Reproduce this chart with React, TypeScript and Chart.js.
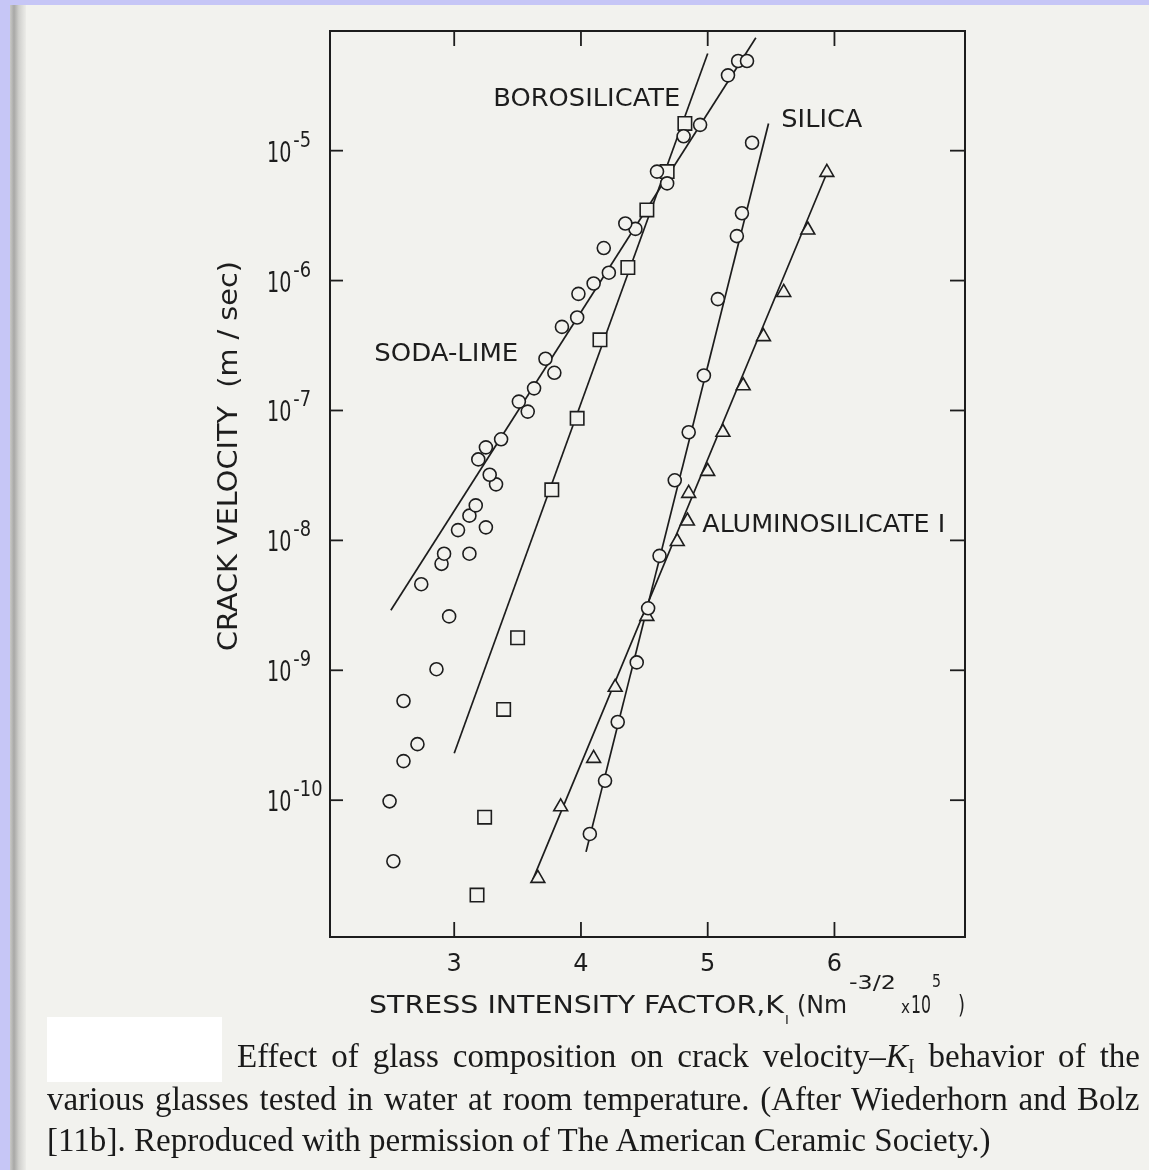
import React, { useEffect, useRef } from 'react';
import { Chart, registerables } from 'chart.js';

Chart.register(...registerables);

// ---------- data (K in units of Nm^-3/2 x10^5, V in m/s) ----------
const sodaLimeK = [2.52, 2.49, 2.60, 2.71, 2.60, 2.86, 2.96, 2.74, 2.90, 2.92, 3.12, 3.03, 3.25, 3.12, 3.17, 3.33, 3.28, 3.19, 3.25, 3.37, 3.58, 3.51, 3.63, 3.79, 3.72, 3.85, 3.97, 3.98, 4.10, 4.22, 4.18, 4.43, 4.35, 4.68, 4.60, 4.81, 4.94, 5.16, 5.24, 5.31];
const sodaLimeV = [3.39e-11, 9.8e-11, 2.0e-10, 2.7e-10, 5.8e-10, 1.02e-9, 2.6e-9, 4.6e-9, 6.6e-9, 7.9e-9, 7.9e-9, 1.2e-8, 1.26e-8, 1.55e-8, 1.86e-8, 2.7e-8, 3.2e-8, 4.2e-8, 5.2e-8, 6.0e-8, 9.8e-8, 1.17e-7, 1.48e-7, 1.95e-7, 2.5e-7, 4.4e-7, 5.2e-7, 7.9e-7, 9.5e-7, 1.15e-6, 1.78e-6, 2.5e-6, 2.75e-6, 5.6e-6, 6.9e-6, 1.29e-5, 1.58e-5, 3.8e-5, 4.9e-5, 4.9e-5];
const sodaLimeFitK = [2.50, 5.38];
const sodaLimeFitV = [2.9e-9, 7.4e-5];

const borosilicateK = [4.82, 4.68, 4.52, 4.37, 4.15, 3.97, 3.77, 3.50, 3.39, 3.24, 3.18];
const borosilicateV = [1.62e-5, 6.9e-6, 3.5e-6, 1.26e-6, 3.5e-7, 8.7e-8, 2.45e-8, 1.78e-9, 5.0e-10, 7.4e-11, 1.86e-11];
const borosilicateFitK = [3.00, 5.00];
const borosilicateFitV = [2.3e-10, 5.6e-5];

const silicaK = [5.35, 5.27, 5.23, 5.08, 4.97, 4.85, 4.74, 4.62, 4.53, 4.44, 4.29, 4.19, 4.07];
const silicaV = [1.15e-5, 3.3e-6, 2.2e-6, 7.2e-7, 1.86e-7, 6.8e-8, 2.9e-8, 7.6e-9, 3.0e-9, 1.15e-9, 4.0e-10, 1.41e-10, 5.5e-11];
const silicaFitK = [4.04, 5.48];
const silicaFitV = [4.0e-11, 1.62e-5];

const aluminoK = [5.94, 5.79, 5.60, 5.44, 5.28, 5.12, 5.00, 4.85, 4.84, 4.76, 4.52, 4.27, 4.10, 3.84, 3.66];
const aluminoV = [6.8e-6, 2.45e-6, 8.1e-7, 3.7e-7, 1.55e-7, 6.8e-8, 3.4e-8, 2.3e-8, 1.41e-8, 9.8e-9, 2.6e-9, 7.4e-10, 2.1e-10, 8.9e-11, 2.5e-11];
const aluminoFitK = [3.62, 5.95];
const aluminoFitV = [2.45e-11, 7.1e-6];

const kTicks = [3, 4, 5, 6];
const kTickLabels = ['3', '4', '5', '6'];
const vTicks = [1e-5, 1e-6, 1e-7, 1e-8, 1e-9, 1e-10];
const vTickExponents = ['-5', '-6', '-7', '-8', '-9', '-10'];

const seriesLabels = ['BOROSILICATE', 'SILICA', 'SODA-LIME', 'ALUMINOSILICATE I'];
const seriesLabelK = [3.308, 5.581, 2.369, 4.957];
const seriesLabelV = [2.21e-5, 1.52e-5, 2.40e-7, 1.16e-8];
const seriesLabelWidth = [187, 81, 144, 243];

const captionLine1a = 'Effect of glass composition on crack velocity–';
const captionLine1b = ' behavior of the';
const captionLine2 = 'various glasses tested in water at room temperature. (After Wiederhorn and Bolz';
const captionLine3 = '[11b]. Reproduced with permission of The American Ceramic Society.)';

// ---------- style ----------
const INK = '#1d1d1d';
const PAPER = '#f2f2ee';
const FONT = '"DejaVu Sans", sans-serif';

const pts = (k: number[], v: number[]) => k.map((x, i) => ({ x, y: v[i] }));

function drawScaled(ctx: CanvasRenderingContext2D, text: string, x: number, baseline: number, size: number, sx: number) {
  ctx.save();
  ctx.font = `${size}px ${FONT}`;
  ctx.textAlign = 'left';
  ctx.textBaseline = 'alphabetic';
  const w = ctx.measureText(text).width;
  ctx.translate(x, baseline);
  ctx.scale(sx, 1);
  ctx.fillText(text, 0, 0);
  ctx.restore();
  return w * sx;
}

function drawFit(ctx: CanvasRenderingContext2D, text: string, x: number, width: number, baseline: number, size: number) {
  ctx.save();
  ctx.font = `${size}px ${FONT}`;
  const w = ctx.measureText(text).width;
  ctx.restore();
  return drawScaled(ctx, text, x, baseline, size, width / w);
}

const decorPlugin = {
  id: 'decor',
  afterDraw(chart: any) {
    const ctx: CanvasRenderingContext2D = chart.ctx;
    const { left, right, top, bottom } = chart.chartArea;
    const xs = chart.scales.x;
    const ys = chart.scales.y;
    ctx.save();
    ctx.strokeStyle = INK;
    ctx.fillStyle = INK;
    ctx.lineWidth = 2;
    ctx.strokeRect(left, top, right - left, bottom - top);
    ctx.lineWidth = 1.8;
    const seg = (x1: number, y1: number, x2: number, y2: number) => {
      ctx.beginPath();
      ctx.moveTo(x1, y1);
      ctx.lineTo(x2, y2);
      ctx.stroke();
    };
    vTicks.forEach((v, i) => {
      const y = ys.getPixelForValue(v);
      seg(left, y, left + 13, y);
      seg(right, y, right - 15, y);
      const w = drawScaled(ctx, '10', 267, y + 11, 29, 0.66);
      drawScaled(ctx, vTickExponents[i], 267 + w + 2, y - 4, 21, 0.85);
    });
    kTicks.forEach((k, i) => {
      const x = xs.getPixelForValue(k);
      seg(x, bottom, x, bottom - 15);
      seg(x, top, x, top + 15);
      ctx.font = `24px ${FONT}`;
      ctx.textAlign = 'center';
      ctx.textBaseline = 'alphabetic';
      ctx.fillText(kTickLabels[i], x, 971);
    });
    // series labels
    seriesLabels.forEach((t, i) => {
      const x = xs.getPixelForValue(seriesLabelK[i]);
      const y = ys.getPixelForValue(seriesLabelV[i]);
      drawFit(ctx, t, x, seriesLabelWidth[i], y, 25);
    });
    // x title
    drawFit(ctx, 'STRESS INTENSITY FACTOR,K', 369, 415, 1013, 25);
    drawScaled(ctx, 'I', 785, 1024, 13, 1);
    drawFit(ctx, '(Nm', 797, 50, 1013, 25);
    drawFit(ctx, '-3/2', 849, 47, 989, 19);
    drawFit(ctx, 'x', 901, 9, 1013, 18);
    drawFit(ctx, '10', 911, 20, 1013, 25);
    drawFit(ctx, '5', 932, 9, 987, 18);
    drawFit(ctx, ')', 958, 7, 1013, 25);
    // y title
    ctx.save();
    ctx.translate(237, 651);
    ctx.rotate(-Math.PI / 2);
    drawFit(ctx, 'CRACK VELOCITY  (m / sec)', 0, 390, 0, 27);
    ctx.restore();
    ctx.restore();
  },
};

const CAP_SIZE = 34;
const CAP_FONT = '"Liberation Serif", "Times New Roman", serif';

function measureCaption(text: string, italic = false, size = CAP_SIZE) {
  const c = document.createElement('canvas').getContext('2d');
  if (!c) return text.length * 14;
  c.font = `${italic ? 'italic ' : ''}${size}px ${CAP_FONT}`;
  return c.measureText(text).width;
}

function spacesIn(t: string) {
  return (t.match(/ /g) || []).length;
}

export default function App() {
  const ref = useRef<HTMLCanvasElement | null>(null);
  const s = 946 / measureCaption(captionLine3);
  const l1Natural = measureCaption(captionLine1a) + measureCaption('K', true) + measureCaption('I', false, CAP_SIZE * 0.6) + measureCaption(captionLine1b);
  const l1Spaces = spacesIn(captionLine1a) + spacesIn(captionLine1b);
  const ws1 = (903 / s - l1Natural) / l1Spaces;
  const ws2 = (1093 / s - measureCaption(captionLine2)) / spacesIn(captionLine2);

  useEffect(() => {
    const canvas = ref.current;
    if (!canvas) return;
    const pointStyle = (style: string, r: number) => ({
      showLine: false,
      pointStyle: style,
      pointRadius: r,
      pointBackgroundColor: PAPER,
      pointBorderColor: INK,
      pointBorderWidth: 1.6,
      order: 0,
    });
    const lineStyle = {
      showLine: true,
      pointRadius: 0,
      borderColor: INK,
      borderWidth: 1.7,
      fill: false,
      order: 1,
    };
    const chart = new Chart(canvas, {
      type: 'scatter',
      data: {
        datasets: [
          { label: 'Soda-lime', data: pts(sodaLimeK, sodaLimeV), ...pointStyle('circle', 6.5) },
          { label: 'Borosilicate', data: pts(borosilicateK, borosilicateV), ...pointStyle('rect', 9.5) },
          { label: 'Silica', data: pts(silicaK, silicaV), ...pointStyle('circle', 6.5) },
          { label: 'Aluminosilicate I', data: pts(aluminoK, aluminoV), ...pointStyle('triangle', 8) },
          { label: 'Soda-lime fit', data: pts(sodaLimeFitK, sodaLimeFitV), ...lineStyle },
          { label: 'Borosilicate fit', data: pts(borosilicateFitK, borosilicateFitV), ...lineStyle },
          { label: 'Silica fit', data: pts(silicaFitK, silicaFitV), ...lineStyle },
          { label: 'Aluminosilicate fit', data: pts(aluminoFitK, aluminoFitV), ...lineStyle },
        ] as any,
      },
      options: {
        responsive: false,
        animation: false,
        devicePixelRatio: 1,
        layout: { padding: { left: 330, top: 31, right: 1149 - 965, bottom: 1170 - 937 } },
        plugins: { legend: { display: false }, tooltip: { enabled: false } },
        scales: {
          x: { type: 'linear', min: 2.02, max: 7.03, display: false },
          y: { type: 'logarithmic', min: 8.85e-12, max: 8.34e-5, display: false },
        },
      },
      plugins: [decorPlugin],
    });
    return () => chart.destroy();
  }, []);

  const asc = CAP_SIZE * 0.8375;
  const lineBase: React.CSSProperties = {
    position: 'absolute',
    fontFamily: CAP_FONT,
    fontSize: CAP_SIZE,
    lineHeight: `${CAP_SIZE}px`,
    color: '#1a1a1a',
    transform: `scaleX(${s})`,
    transformOrigin: 'left top',
    margin: 0,
    whiteSpace: 'nowrap',
  };
  const sub: React.CSSProperties = { fontSize: '0.6em', verticalAlign: '-0.3em', lineHeight: 0 };

  return (
    <div style={{ position: 'fixed', left: 0, top: 0, width: 1149, height: 1170, background: PAPER, overflow: 'hidden' }}>
      <div style={{ position: 'absolute', left: 10, top: 0, width: 16, height: 1170, background: 'linear-gradient(to right, #c9c9c7 0%, #a8a8a6 25%, #cfcfcc 55%, #ecece8 100%)' }} />
      <div style={{ position: 'absolute', left: 0, top: 0, width: 10, height: 1170, background: '#c6c6f6' }} />
      <div style={{ position: 'absolute', left: 0, top: 0, width: 1149, height: 5, background: '#c6c6f6' }} />
      <canvas ref={ref} width={1149} height={1170} style={{ position: 'absolute', left: 0, top: 0, width: 1149, height: 1170 }} />
      <div style={{ position: 'absolute', left: 47, top: 1017, width: 175, height: 65, background: '#ffffff' }} />
      <div style={{ ...lineBase, left: 237, top: 1067 - asc, wordSpacing: ws1 }}>
        {captionLine1a}<i>K</i><span style={sub}>I</span>{captionLine1b}
      </div>
      <div style={{ ...lineBase, left: 47, top: 1110 - asc, wordSpacing: ws2 }}>
        {captionLine2}
      </div>
      <div style={{ ...lineBase, left: 47, top: 1151 - asc }}>
        {captionLine3}
      </div>
    </div>
  );
}
